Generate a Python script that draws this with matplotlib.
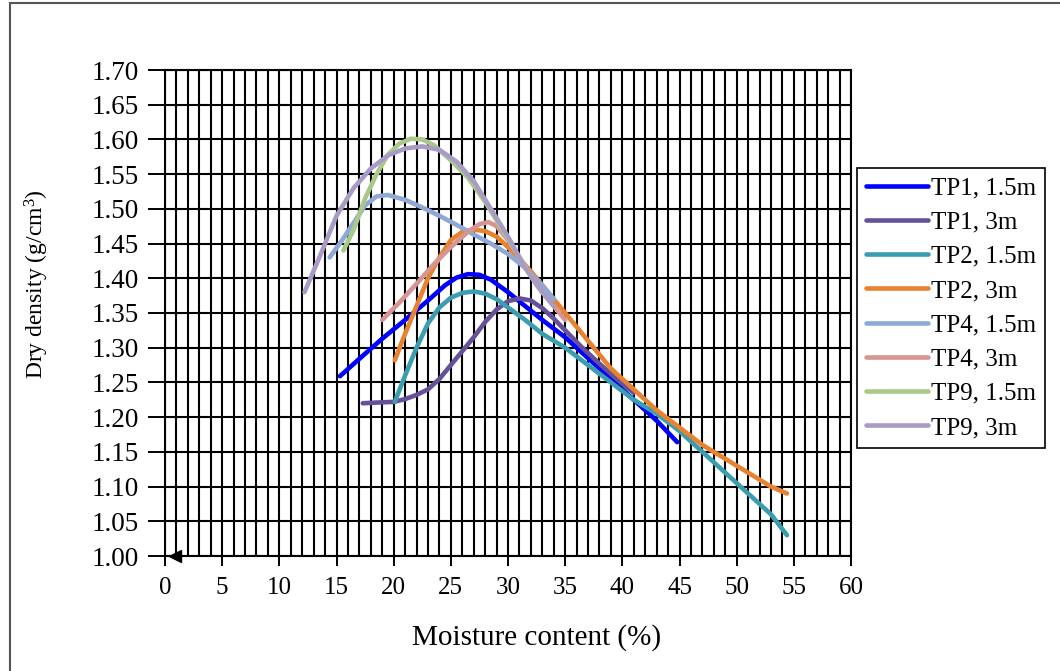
import matplotlib
matplotlib.use('Agg')
import matplotlib.pyplot as plt
import numpy as np
from matplotlib.patches import Rectangle

plt.rcParams['font.family'] = ['Liberation Serif', 'DejaVu Serif']
plt.rcParams['mathtext.fontset'] = 'custom'
plt.rcParams['mathtext.rm'] = 'Liberation Serif'

# moisture content (%) and dry density (g/cm3)
tp1_15_x = [15.3, 17, 19, 21, 23, 24.5, 25.5, 26.5, 27.5, 28.5, 30, 31.5, 33, 35, 37, 39, 41, 43, 44.8]
tp1_15_y = [1.259, 1.284, 1.313, 1.34, 1.368, 1.39, 1.401, 1.406, 1.405, 1.398, 1.38, 1.36, 1.34, 1.315, 1.285, 1.255, 1.225, 1.195, 1.164]

tp1_3_x = [17.3, 18.5, 20, 21, 22, 23, 24, 25, 26, 27, 28, 29, 30, 31, 32, 33, 34, 35, 36.5, 38, 39.5, 41]
tp1_3_y = [1.220, 1.221, 1.222, 1.226, 1.232, 1.24, 1.255, 1.275, 1.295, 1.315, 1.337, 1.355, 1.367, 1.371, 1.368, 1.357, 1.342, 1.325, 1.30, 1.277, 1.255, 1.235]

tp2_15_x = [20.1, 21, 22, 23, 24, 25, 26, 27, 28, 29, 30, 31.5, 33, 35, 37, 39, 41, 43, 45, 47, 49, 51, 53, 54.4]
tp2_15_y = [1.222, 1.26, 1.30, 1.335, 1.358, 1.372, 1.379, 1.381, 1.378, 1.37, 1.358, 1.34, 1.32, 1.30, 1.275, 1.25, 1.225, 1.205, 1.18, 1.15, 1.12, 1.09, 1.06, 1.03]

tp2_3_x = [20.1, 21, 22, 23, 24, 25, 26, 27, 28, 29, 30, 31, 32, 33.5, 35, 37, 39, 41, 43, 45, 47, 49, 51, 53, 54.4]
tp2_3_y = [1.282, 1.32, 1.36, 1.40, 1.43, 1.455, 1.467, 1.470, 1.468, 1.46, 1.445, 1.428, 1.41, 1.38, 1.35, 1.31, 1.27, 1.24, 1.21, 1.185, 1.16, 1.14, 1.12, 1.10, 1.09]

tp4_15_x = [14.4, 15.5, 16.5, 17.5, 18.5, 19.5, 21, 22.5, 24, 25.5, 27, 28.5, 30, 31.5, 33, 34]
tp4_15_y = [1.43, 1.455, 1.48, 1.505, 1.518, 1.52, 1.513, 1.502, 1.49, 1.477, 1.463, 1.45, 1.435, 1.415, 1.39, 1.37]

tp4_3_x = [19.0, 20.5, 22, 23.5, 25, 26.5, 27.5, 28.3, 29, 30, 31, 32, 33, 34, 35]
tp4_3_y = [1.34, 1.365, 1.392, 1.42, 1.445, 1.467, 1.478, 1.481, 1.475, 1.455, 1.43, 1.405, 1.38, 1.36, 1.34]

tp9_15_x = [15.6, 16.5, 17.5, 18.5, 19.5, 20.5, 21.5, 22.5, 23.5, 25, 26.5, 28, 29.5, 31, 32.5, 33.5]
tp9_15_y = [1.44, 1.47, 1.515, 1.55, 1.578, 1.594, 1.601, 1.600, 1.592, 1.57, 1.545, 1.51, 1.47, 1.43, 1.39, 1.37]

tp9_3_x = [12.2, 13.5, 15, 16.5, 18, 19.5, 21, 22.5, 24, 25.5, 27, 28.5, 30, 31.5, 33, 34]
tp9_3_y = [1.38, 1.43, 1.49, 1.53, 1.558, 1.577, 1.587, 1.59, 1.585, 1.568, 1.54, 1.50, 1.46, 1.415, 1.38, 1.36]

labels = ['TP1, 1.5m', 'TP1, 3m', 'TP2, 1.5m', 'TP2, 3m',
          'TP4, 1.5m', 'TP4, 3m', 'TP9, 1.5m', 'TP9, 3m']
colors = ['#0000FF', '#66509A', '#3A9DB0', '#E8822E',
          '#8EA9D6', '#D69593', '#A9C98A', '#A99BC6']
series = [(tp1_15_x, tp1_15_y), (tp1_3_x, tp1_3_y), (tp2_15_x, tp2_15_y), (tp2_3_x, tp2_3_y),
          (tp4_15_x, tp4_15_y), (tp4_3_x, tp4_3_y), (tp9_15_x, tp9_15_y), (tp9_3_x, tp9_3_y)]

fig = plt.figure(figsize=(10.6, 6.71), dpi=100)
ax = fig.add_axes([165/1060, 1-556/671, (851-165)/1060, (556-70)/671])

for (xs, ys), lab, col in zip(series, labels, colors):
    ax.plot(xs, ys, color=col, lw=3.3, label=lab, solid_capstyle='round', solid_joinstyle='round')

ax.set_xlim(0, 60)
ax.set_ylim(1.0, 1.7)
ax.set_xticks(np.arange(0, 61, 5))
ax.set_xticks(np.arange(0, 61, 1), minor=True)
ax.set_yticks(np.arange(1.0, 1.701, 0.05))
ax.set_yticklabels(['%.2f' % v for v in np.arange(1.0, 1.701, 0.05)])
ax.grid(which='both', axis='x', color='black', lw=1.5)
ax.grid(which='major', axis='y', color='black', lw=1.5)
ax.tick_params(axis='x', which='minor', length=0)
ax.tick_params(axis='x', which='major', direction='out', length=7, width=1.4, pad=8, labelsize=18)
ax.tick_params(axis='y', direction='out', length=12, width=1.4, pad=7, labelsize=19.5)
for s in ax.spines.values():
    s.set_linewidth(1.5)

# little arrow head at the start of the x axis
ax.plot([0.9], [1.0], marker='<', color='black', markersize=9, clip_on=False)

fig.text(537/1060, 1-638/671, 'Moisture content (%)', fontsize=21, ha='center', va='center')
fig.text(37/1060, 1-284/671, 'Dry density (g/cm$\\mathregular{^3}$)', fontsize=17,
         rotation=90, ha='center', va='center')

leg = fig.legend(loc='upper left', bbox_to_anchor=(857/1060, 1-168/671), fontsize=18,
                 frameon=True, fancybox=False, edgecolor='black', framealpha=1,
                 handlelength=2.5, handletextpad=0.12, labelspacing=0.47, borderpad=0.35,
                 borderaxespad=0)
leg.get_frame().set_linewidth(1.2)

# frame round the whole picture
fig.patches.append(Rectangle((10/1060, -0.05), 1.2, 1.05 - 3/671, transform=fig.transFigure,
                             fill=False, edgecolor='#555555', lw=1.5))

fig.savefig('out.png', dpi=100)
